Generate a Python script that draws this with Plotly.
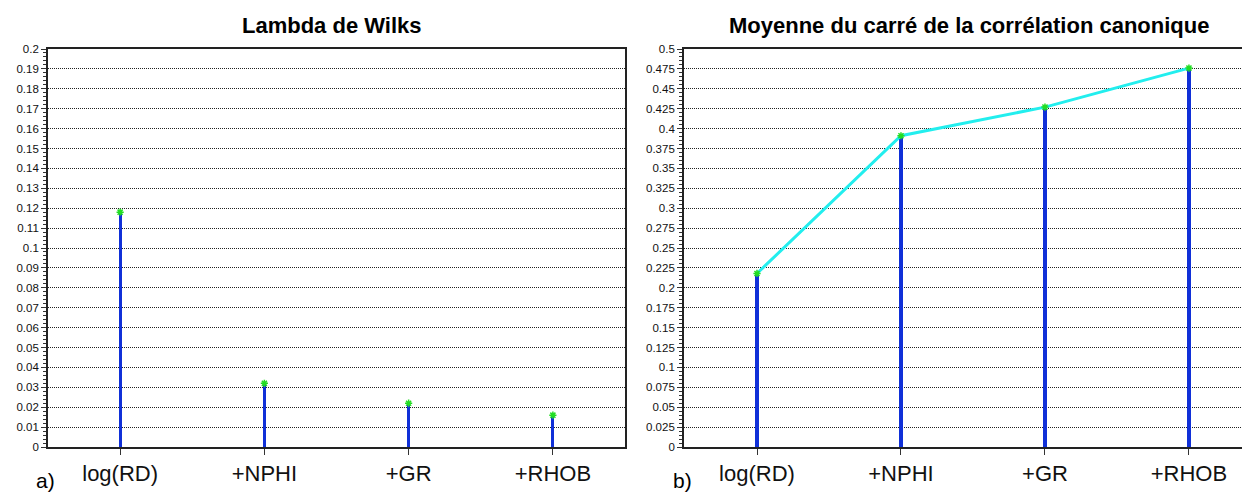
import plotly.graph_objects as go

categories = ["log(RD)", "+NPHI", "+GR", "+RHOB"]
wilks_lambda = [0.118, 0.032, 0.022, 0.016]
mean_sq_canon_corr = [0.218, 0.391, 0.427, 0.476]

titles = ["Lambda de Wilks", "Moyenne du carré de la corrélation canonique"]
panel_labels = ["a)", "b)"]

OFF = 8  # page body margin
W, H = 1250 - OFF, 492 - OFF
xpos = list(range(len(categories)))


def px(x):
    return (x - OFF) / W


def py(y):
    return 1 - (y - OFF) / H


fig = go.Figure()

STEM = "#1030d8"
MARK = "#22dd22"
LINE = "#22eeee"
FONT = "Liberation Sans, Arial"

# Left panel
fig.add_trace(go.Bar(x=xpos, y=wilks_lambda, width=0.022, marker=dict(color=STEM, line=dict(width=0)),
                     xaxis="x", yaxis="y", showlegend=False))
fig.add_trace(go.Scatter(x=xpos, y=wilks_lambda, mode="markers",
                         marker=dict(symbol="asterisk-open", size=6, color=MARK, line=dict(color=MARK, width=1.5)),
                         xaxis="x", yaxis="y", showlegend=False))

# Right panel
fig.add_trace(go.Bar(x=xpos, y=mean_sq_canon_corr, width=0.022, marker=dict(color=STEM, line=dict(width=0)),
                     xaxis="x2", yaxis="y2", showlegend=False))
fig.add_trace(go.Scatter(x=xpos, y=mean_sq_canon_corr, mode="lines",
                         line=dict(color=LINE, width=3),
                         xaxis="x2", yaxis="y2", showlegend=False))
fig.add_trace(go.Scatter(x=xpos, y=mean_sq_canon_corr, mode="markers",
                         marker=dict(symbol="asterisk-open", size=6, color=MARK, line=dict(color=MARK, width=1.5)),
                         xaxis="x2", yaxis="y2", showlegend=False))

ydom = [py(447), py(49)]
common_x = dict(tickmode="array", tickvals=xpos, ticktext=categories, showgrid=False,
                ticks="outside", ticklen=6, tickcolor="#333", showline=True, linecolor="#222",
                linewidth=1.8, mirror=True, zeroline=False,
                tickfont=dict(family=FONT, size=22, color="#111"))
common_y = dict(showline=True, linecolor="#222", linewidth=1.8, mirror=True, zeroline=False,
                ticks="outside", ticklen=5, tickcolor="#333",
                showgrid=True, gridcolor="#222", griddash="1px,1px", gridwidth=1,
                tickfont=dict(family=FONT, size=11.5, color="#111"))

fig.update_layout(
    width=W, height=H, margin=dict(l=0, r=0, t=0, b=0, autoexpand=False),
    paper_bgcolor="white", plot_bgcolor="white", bargap=0,
    xaxis=dict(domain=[px(48), px(625)], range=[-0.5, 3.5], anchor="y", **common_x),
    yaxis=dict(domain=ydom, range=[0, 0.2], dtick=0.01, anchor="x",
               minor=dict(ticks="outside", dtick=0.002, ticklen=3, tickcolor="#333", showgrid=False),
               **common_y),
    xaxis2=dict(domain=[px(684), 1.0], range=[-0.507, 3.424], anchor="y2", **common_x),
    yaxis2=dict(domain=ydom, range=[0, 0.5], dtick=0.025, anchor="x2",
                minor=dict(ticks="outside", dtick=0.005, ticklen=3, tickcolor="#333", showgrid=False),
                **common_y),
)

title_x = [332, 969]
for t, cx in zip(titles, title_x):
    fig.add_annotation(text="<b>%s</b>" % t, x=px(cx), y=py(26), xref="paper", yref="paper",
                       xanchor="center", yanchor="middle", showarrow=False,
                       font=dict(family=FONT, size=22, color="black"))

label_x = [34, 671]
for lbl, lx in zip(panel_labels, label_x):
    fig.add_annotation(text=lbl, x=px(lx), y=py(480), xref="paper", yref="paper",
                       xanchor="left", yanchor="middle", showarrow=False,
                       font=dict(family=FONT, size=21, color="black"))

fig.write_html("out.html")
